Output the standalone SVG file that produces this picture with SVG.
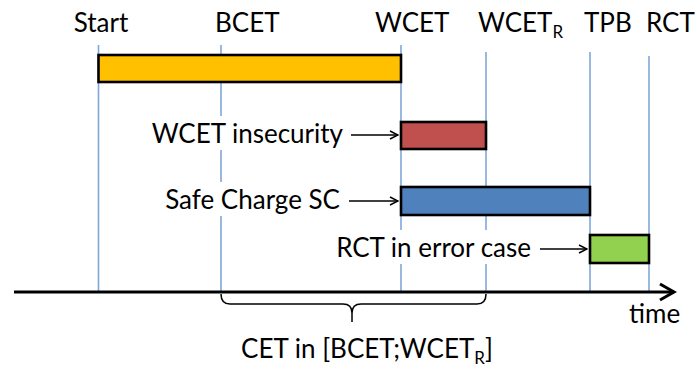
<svg xmlns="http://www.w3.org/2000/svg" width="697" height="370" viewBox="0 0 697 370">
<style>
text{font-family:Lato,"Open Sans","Liberation Sans",sans-serif;font-size:26px;fill:#000}
.vl{stroke:#7fa7d9;stroke-width:1.6;fill:none}
.bar{stroke:#000;stroke-width:2.6}
.bg{fill:#fff}
.con{stroke:#000;stroke-width:1.5;fill:none}
</style>
<defs>
<marker id="ah" viewBox="0 0 10 10" refX="9" refY="5" markerWidth="10" markerHeight="10" markerUnits="userSpaceOnUse" orient="auto">
<path d="M1,1 L9,5 L1,9" fill="none" stroke="#000" stroke-width="1.4"/>
</marker>
<marker id="axh" viewBox="0 0 20 20" refX="17" refY="10" markerWidth="20" markerHeight="20" markerUnits="userSpaceOnUse" orient="auto">
<path d="M3,2 L17,10 L3,18" fill="none" stroke="#000" stroke-width="3"/>
</marker>
</defs>
<rect width="697" height="370" fill="#fff"/>
<g id="gridlines">
<line class="vl" x1="98.5" y1="45" x2="98.5" y2="292"/>
<line class="vl" x1="221" y1="45" x2="221" y2="292"/>
<line class="vl" x1="401" y1="45" x2="401" y2="292"/>
<line class="vl" x1="486" y1="52" x2="486" y2="292"/>
<line class="vl" x1="590" y1="52" x2="590" y2="292"/>
<line class="vl" x1="649" y1="56" x2="649" y2="292"/>
</g>
<g id="labels-top">
<text x="101" y="32" text-anchor="middle">Start</text>
<text x="215" y="32">BCET</text>
<text x="375" y="32">WCET</text>
<text x="478" y="32">WCET<tspan font-size="17" dy="6">R</tspan></text>
<text x="584" y="32">TPB</text>
<text x="646" y="32">RCT</text>
</g>
<g id="bar-cet"><rect class="bar" x="98.5" y="55" width="302.5" height="27" fill="#ffc000"/></g>
<g id="bar-insecurity"><rect class="bar" x="401" y="122" width="85" height="27" fill="#c0504d"/></g>
<g id="bar-sc"><rect class="bar" x="401" y="187" width="189" height="28" fill="#4f81bd"/></g>
<g id="bar-rct"><rect class="bar" x="590" y="235" width="59" height="28" fill="#92d050"/></g>
<g id="label-insecurity"><rect class="bg" x="146" y="116" width="202" height="34"/><text x="343" y="143" text-anchor="end">WCET insecurity</text></g>
<g id="label-sc"><rect class="bg" x="160" y="182" width="184" height="34"/><text x="340" y="209" text-anchor="end">Safe Charge SC</text></g>
<g id="label-rct"><rect class="bg" x="326" y="230" width="208" height="34"/><text x="531" y="257" text-anchor="end">RCT in error case</text></g>
<g id="axis">
<line x1="14" y1="292" x2="674" y2="292" stroke="#000" stroke-width="3.2" marker-end="url(#axh)"/>
<text x="629" y="323">time</text>
</g>
<g id="connectors">
<line class="con" x1="351" y1="135" x2="398" y2="135" marker-end="url(#ah)"/>
<line class="con" x1="349" y1="201" x2="398" y2="201" marker-end="url(#ah)"/>
<line class="con" x1="540" y1="249" x2="587" y2="249" marker-end="url(#ah)"/>
</g>
<g id="brace">
<path class="con" d="M221,294 Q221,304 230,304 L343,304 Q352,304 352,313 L352,322 M352,313 Q352,304 361,304 L477,304 Q486,304 486,294"/>
<text x="367" y="358" text-anchor="middle">CET in [BCET;WCET<tspan font-size="17" dy="6">R</tspan><tspan dy="-6">]</tspan></text>
</g>
</svg>
